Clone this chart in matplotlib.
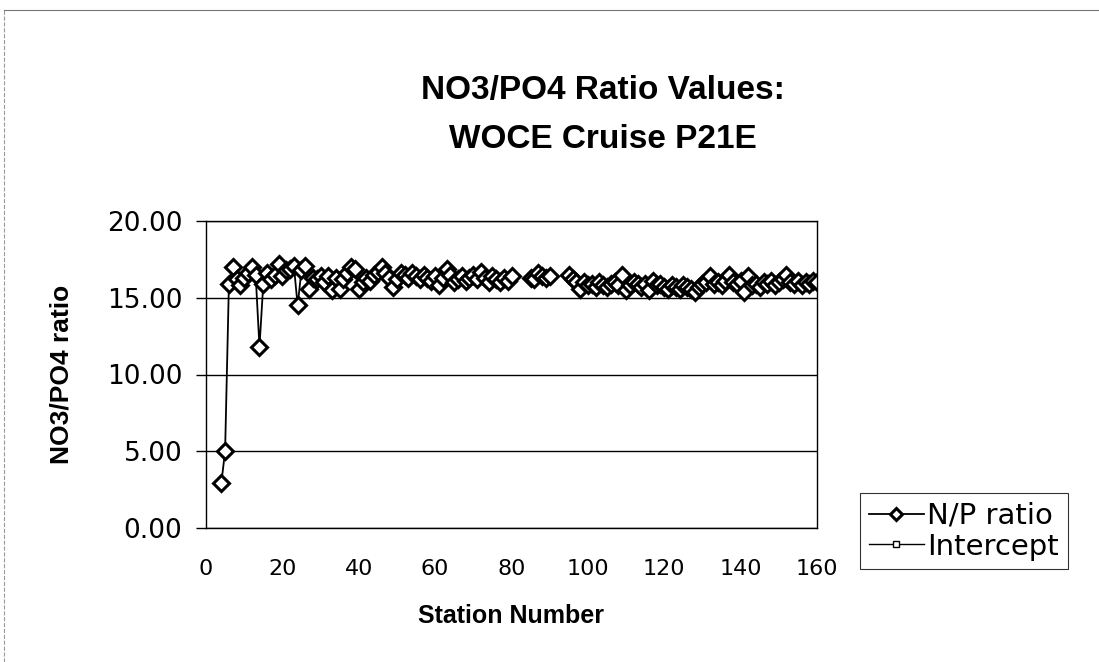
import numpy as np
import pandas as pd
import matplotlib.pyplot as plt

# N/P ratio per station (gaps at 81-84 and 91-94)
stations = list(range(4, 81)) + list(range(85, 91)) + list(range(95, 161))
np_ratio = [
    2.9, 5.0, 15.9, 17.0, 16.2, 15.8, 16.3, 16.6, 17.0, 16.5,
    11.8, 15.9, 16.6, 16.2, 16.5, 17.2, 16.4, 16.8, 16.9, 17.1,
    14.5, 16.8, 17.1, 15.6, 16.3, 16.2, 16.4,
    16.0, 16.4, 15.5, 16.3, 15.6, 16.2, 16.6, 17.0, 16.9, 15.6,
    16.0, 16.3, 16.1, 16.5, 16.7, 17.0, 16.6, 16.3, 15.7, 16.2,
    16.6, 16.5, 16.3, 16.6, 16.4, 16.2, 16.5, 16.3, 16.1, 16.4,
    15.8, 16.3, 16.9, 16.5, 16.0, 16.2, 16.4, 16.1, 16.3, 16.5,
    16.2, 16.7, 16.3, 16.0, 16.4, 16.2, 16.0, 16.3, 16.1, 16.4,
    16.3, 16.2, 16.6, 16.4, 16.3, 16.4,
    16.5, 16.2, 16.0, 15.6, 16.0, 15.8, 15.9, 15.7, 16.0, 15.8,
    15.7, 15.9, 16.0, 15.8, 16.5, 15.5, 15.8, 16.0, 15.9, 15.7,
    15.9, 15.5, 16.1, 15.8, 15.9, 15.7, 15.6, 15.8, 15.7, 15.6,
    15.8, 15.7, 15.6, 15.4, 15.7, 15.9, 16.0, 16.4, 15.9, 16.0,
    15.8, 16.1, 16.5, 16.0, 15.9, 16.1, 15.4, 16.4, 15.8, 15.9,
    15.7, 16.0, 15.9, 16.1, 15.8, 16.0, 16.2, 16.5, 16.0, 15.9,
    16.1, 15.8, 16.0, 15.9, 16.1, 16.0,
]
intercept_x = []
intercept_y = []

yticks = [0, 5, 10, 15, 20]
xticks = [0, 20, 40, 60, 80, 100, 120, 140, 160]

# missing stations -> NaN so the line breaks like in Excel
ser = pd.Series(np_ratio, index=stations).reindex(range(4, 161))

plt.rcParams['font.family'] = ['Liberation Sans', 'DejaVu Sans']

fig = plt.figure(figsize=(10.99, 6.62), dpi=100)
ax = fig.add_axes([206 / 1099, 1 - 528 / 662, 611 / 1099, 307 / 662])

ax.plot(ser.index, ser.values, color='black', lw=1.3, marker='D', ms=8,
        mfc='white', mec='black', mew=2.2, label='N/P ratio')
ax.plot(intercept_x, intercept_y, color='black', lw=1, marker='s', ms=6,
        mfc='white', mec='black', mew=1, label='Intercept')

ax.set_xlim(0, 160)
ax.set_ylim(0, 20)
ax.set_xticks(xticks)
ax.set_yticks(yticks)
ax.set_yticklabels(['%.2f' % v for v in yticks])
ax.tick_params(axis='x', length=0, pad=22, labelsize=16)
ax.tick_params(axis='y', length=7, width=1, pad=10, labelsize=19, direction='out')
for lab in ax.get_xticklabels() + ax.get_yticklabels():
    lab.set_family('DejaVu Sans')
ax.grid(axis='y', color='black', lw=1)
for s in ax.spines.values():
    s.set_color('black')
    s.set_linewidth(1)

ax.set_xlabel('Station Number', fontsize=18, fontweight='bold', labelpad=18)
ax.set_ylabel('NO3/PO4 ratio', fontsize=19, fontweight='bold', labelpad=24)

fig.text(603 / 1099, 1 - 90 / 662, 'NO3/PO4 Ratio Values:', ha='center', va='center',
         fontsize=24, fontweight='bold')
fig.text(603 / 1099, 1 - 140 / 662, 'WOCE Cruise P21E', ha='center', va='center',
         fontsize=24, fontweight='bold')

leg = fig.legend(loc='upper left', bbox_to_anchor=(860 / 1099, 1 - 493 / 662),
                 borderaxespad=0, prop={'family': 'DejaVu Sans', 'size': 21},
                 frameon=True, fancybox=False, edgecolor='black',
                 handlelength=1.9, handletextpad=0.1, borderpad=0.3,
                 labelspacing=0.1, markerscale=0.75)
leg.get_frame().set_linewidth(0.8)

# faint page border from the scan
fig.add_artist(plt.Line2D([0.004, 0.004], [0, 0.985], color='#999999', lw=0.8, ls='--'))
fig.add_artist(plt.Line2D([0.004, 1], [0.985, 0.985], color='#777777', lw=0.8))

plt.savefig('out.png', dpi=100)
